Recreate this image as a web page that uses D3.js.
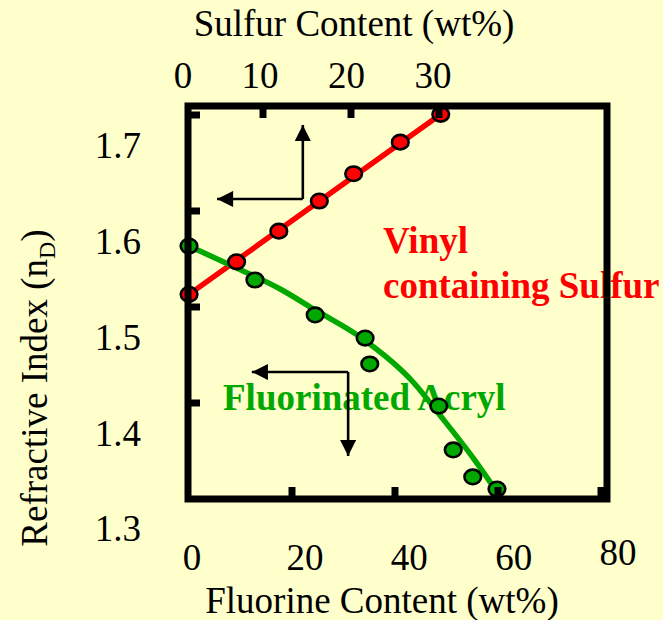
<!DOCTYPE html>
<html>
<head>
<meta charset="utf-8">
<script src="https://cdn.jsdelivr.net/npm/d3@7"></script>
<style>
  html, body { margin: 0; padding: 0; background: #FFFFCC; }
  svg { display: block; }
</style>
</head>
<body>
<svg id="chart" width="663" height="620"></svg>
<script>
// ---------- data ----------
const fluorineTicks = [0, 20, 40, 60, 80];
const sulfurTicks = [0, 10, 20, 30];
const indexTicks = [1.3, 1.4, 1.5, 1.6, 1.7];

// Vinyl containing Sulfur (top axis: sulfur wt%)
const vinylSulfur = [1.6, 7.0, 11.8, 16.4, 20.3, 25.6, 30.2];
const vinylIndex  = [1.544, 1.578, 1.610, 1.6415, 1.670, 1.703, 1.732];
const vinylFitSulfur = [1.6, 30.2];
const vinylFitIndex  = [1.544, 1.732];

// Fluorinated Acryl (bottom axis: fluorine wt%)
const fluoroFluorine = [0, 12.8, 24.5, 34.2, 35.1, 48.5, 51.3, 55.1, 59.8];
const fluoroIndex    = [1.5945, 1.559, 1.5225, 1.4984, 1.4713, 1.4274, 1.3815, 1.3533, 1.3407];
const fluoroFitFluorine = [0, 8.0, 17.7, 24.5, 33.8, 43.5, 48.7, 55.2, 59.8];
const fluoroFitIndex    = [1.5945, 1.5747, 1.5496, 1.5277, 1.4974, 1.4525, 1.418, 1.373, 1.3376];

// ---------- layout ----------
const W = 663, H = 620;
const frame = { left: 188, top: 106, right: 607, bottom: 499 };
const RED = "#FF0000", GREEN = "#00A800", BG = "#FFFFCC";
const serif = "'Liberation Serif', 'Times New Roman', serif";

const svg = d3.select("#chart");
svg.append("rect").attr("width", W).attr("height", H).attr("fill", BG);

// scales
const xF = d3.scaleLinear().domain([0, 80]).range([189, 601]);        // fluorine (bottom)
const xS = d3.scaleLinear().domain([0, 30]).range([175, 439]);        // sulfur (top)
const yN = d3.scaleLinear().domain([1.3, 1.7]).range([528, 145]);     // refractive index (data + labels)
const yTick = d3.scaleLinear().domain([1.3, 1.7]).range([499, 115]);  // frame tick marks
// tick-label placement scales (labels in the original sit slightly off the ticks)
const xFLabel = d3.scaleLinear().domain([0, 20, 80]).range([192, 305, 618]);
const xSLabel = d3.scaleLinear().domain([0, 10, 30]).range([183, 260, 433]);

// ---------- text (drawn first; lines & frame overlap it) ----------
svg.append("text")
  .attr("x", 354).attr("y", 36)
  .attr("text-anchor", "middle")
  .attr("font-family", serif).attr("font-size", 37)
  .text("Sulfur Content (wt%)");

svg.append("text")
  .attr("x", 382).attr("y", 613)
  .attr("text-anchor", "middle")
  .attr("font-family", serif).attr("font-size", 37)
  .text("Fluorine Content (wt%)");

const yt = svg.append("text")
  .attr("transform", "translate(47,388) rotate(-90)")
  .attr("text-anchor", "middle")
  .attr("font-family", serif).attr("font-size", 37);
yt.append("tspan").text("Refractive Index (n");
yt.append("tspan").attr("dy", 8).attr("font-size", 24).text("D");
yt.append("tspan").attr("dy", -8).text(")");

// tick labels
svg.append("g").selectAll("text").data(sulfurTicks).join("text")
  .attr("x", d => xSLabel(d)).attr("y", 88)
  .attr("text-anchor", "middle")
  .attr("font-family", serif).attr("font-size", 37)
  .text(d => d);

svg.append("g").selectAll("text").data(fluorineTicks).join("text")
  .attr("x", d => xFLabel(d)).attr("y", d => d === 80 ? 565 : 570)
  .attr("text-anchor", "middle")
  .attr("font-family", serif).attr("font-size", 37)
  .text(d => d);

svg.append("g").selectAll("text").data(indexTicks).join("text")
  .attr("x", 141).attr("y", d => yN(d)).attr("dy", "0.36em")
  .attr("text-anchor", "end")
  .attr("font-family", serif).attr("font-size", 37)
  .text(d => d.toFixed(1));

// series labels
svg.append("text").attr("x", 383).attr("y", 253)
  .attr("font-family", serif).attr("font-size", 37).attr("font-weight", "bold")
  .attr("fill", RED).text("Vinyl");
svg.append("text").attr("x", 383).attr("y", 298)
  .attr("font-family", serif).attr("font-size", 37).attr("font-weight", "bold")
  .attr("fill", RED).text("containing Sulfur");
svg.append("text").attr("x", 223).attr("y", 410)
  .attr("font-family", serif).attr("font-size", 37).attr("font-weight", "bold")
  .attr("fill", GREEN).text("Fluorinated Acryl");

// ---------- lines ----------
const redLine = d3.line().x(d => xS(d[0])).y(d => yN(d[1]));
svg.append("path")
  .datum(d3.zip(vinylFitSulfur, vinylFitIndex))
  .attr("d", redLine)
  .attr("fill", "none").attr("stroke", RED).attr("stroke-width", 5.5);

const greenLine = d3.line().x(d => xF(d[0])).y(d => yN(d[1])).curve(d3.curveMonotoneX);
svg.append("path")
  .datum(d3.zip(fluoroFitFluorine, fluoroFitIndex))
  .attr("d", greenLine)
  .attr("fill", "none").attr("stroke", GREEN).attr("stroke-width", 5.5);

// ---------- points ----------
svg.append("g").selectAll("ellipse").data(d3.zip(fluoroFluorine, fluoroIndex)).join("ellipse")
  .attr("cx", d => xF(d[0])).attr("cy", d => yN(d[1]))
  .attr("rx", 8.3).attr("ry", 7.3)
  .attr("fill", GREEN).attr("stroke", "#000").attr("stroke-width", 2.6);

svg.append("g").selectAll("ellipse").data(d3.zip(vinylSulfur, vinylIndex)).join("ellipse")
  .attr("cx", d => xS(d[0])).attr("cy", d => yN(d[1]))
  .attr("rx", 8.3).attr("ry", 7.3)
  .attr("fill", RED).attr("stroke", "#000").attr("stroke-width", 2.6);

// ---------- axis-indicator arrows ----------
const defs = svg.append("defs");
defs.append("marker")
  .attr("id", "ah").attr("viewBox", "0 0 10 10")
  .attr("refX", 10).attr("refY", 5)
  .attr("markerWidth", 6.5).attr("markerHeight", 6.2)
  .attr("markerUnits", "strokeWidth")
  .attr("orient", "auto")
  .append("path").attr("d", "M0,0 L10,5 L0,10 Z").attr("fill", "#000");

// Arrow for sulfur series: points up (top axis) and left (index axis)
const a1 = { f: 22.1, n: 1.6436, upN: 1.7209, leftF: 5.44 };
svg.append("path")
  .attr("d", `M${xF(a1.f)},${yN(a1.n)} L${xF(a1.f)},${yN(a1.upN)}`)
  .attr("stroke", "#000").attr("stroke-width", 2.6).attr("fill", "none")
  .attr("marker-end", "url(#ah)");
svg.append("path")
  .attr("d", `M${xF(a1.f)},${yN(a1.n)} L${xF(a1.leftF)},${yN(a1.n)}`)
  .attr("stroke", "#000").attr("stroke-width", 2.6).attr("fill", "none")
  .attr("marker-end", "url(#ah)");

// Arrow for fluorine series: points left (index axis) and down (bottom axis)
const a2 = { f: 30.9, n: 1.4629, downN: 1.3752, leftF: 12.2 };
svg.append("path")
  .attr("d", `M${xF(a2.f)},${yN(a2.n)} L${xF(a2.leftF)},${yN(a2.n)}`)
  .attr("stroke", "#000").attr("stroke-width", 2.6).attr("fill", "none")
  .attr("marker-end", "url(#ah)");
svg.append("path")
  .attr("d", `M${xF(a2.f)},${yN(a2.n)} L${xF(a2.f)},${yN(a2.downN)}`)
  .attr("stroke", "#000").attr("stroke-width", 2.6).attr("fill", "none")
  .attr("marker-end", "url(#ah)");

// ---------- frame & ticks (on top) ----------
svg.append("rect")
  .attr("x", frame.left).attr("y", frame.top)
  .attr("width", frame.right - frame.left).attr("height", frame.bottom - frame.top)
  .attr("fill", "none").attr("stroke", "#000").attr("stroke-width", 7);

const tickLen = 12;
svg.append("g").selectAll("line").data(fluorineTicks.filter(d => d > 0 && xF(d) < frame.right - 5)).join("line")
  .attr("x1", d => xF(d)).attr("x2", d => xF(d))
  .attr("y1", frame.bottom).attr("y2", frame.bottom - tickLen)
  .attr("stroke", "#000").attr("stroke-width", 7);

svg.append("g").selectAll("line").data(sulfurTicks.filter(d => xS(d) > frame.left + 5)).join("line")
  .attr("x1", d => xS(d)).attr("x2", d => xS(d))
  .attr("y1", frame.top).attr("y2", frame.top + tickLen)
  .attr("stroke", "#000").attr("stroke-width", 7);

svg.append("g").selectAll("line").data(indexTicks.filter(d => d > 1.3)).join("line")
  .attr("x1", frame.left).attr("x2", frame.left + tickLen)
  .attr("y1", d => yTick(d)).attr("y2", d => yTick(d))
  .attr("stroke", "#000").attr("stroke-width", 7);
</script>
</body>
</html>
